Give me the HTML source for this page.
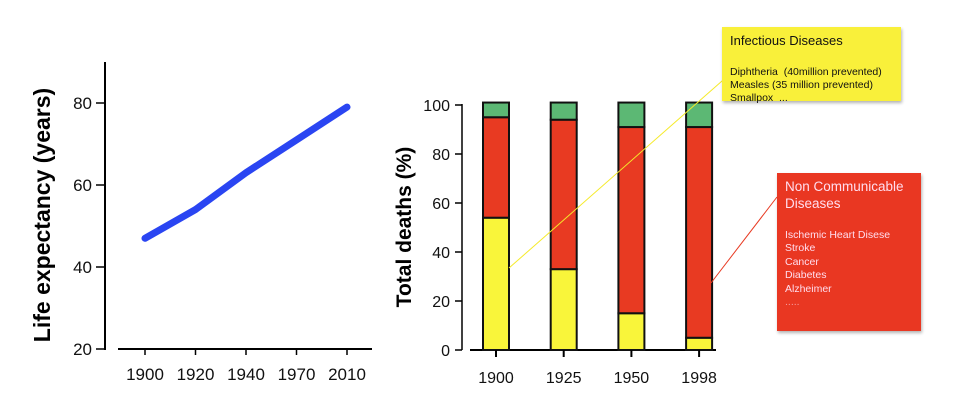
<!DOCTYPE html>
<html><head><meta charset="utf-8"><style>
body{margin:0;background:#fff;width:957px;height:402px;overflow:hidden;font-family:"Liberation Sans",sans-serif}
.box{position:absolute;box-shadow:1px 2px 3px rgba(0,0,0,.3)}
</style></head><body>
<svg id="c" width="957" height="402" style="position:absolute;left:0;top:0"></svg>
<div class="box" style="left:722px;top:27px;width:179px;height:74px;background:#f9f03a;color:#111">
 <div style="position:absolute;left:8px;top:6px;font-size:13px">Infectious Diseases</div>
 <div style="position:absolute;left:8px;top:39px;font-size:10.5px;line-height:13px;white-space:nowrap">Diphtheria &nbsp;(40million prevented)<br>Measles (35 million prevented)<br>Smallpox &nbsp;...</div>
</div>
<div class="box" style="left:777px;top:173px;width:144px;height:158px;background:#e93722;color:#fde">
 <div style="position:absolute;left:8px;top:5px;font-size:13.5px;line-height:17px">Non Communicable<br>Diseases</div>
 <div style="position:absolute;left:8px;top:56px;font-size:10.5px;line-height:13.4px">Ischemic Heart Disese<br>Stroke<br>Cancer<br>Diabetes<br>Alzheimer<br><span style="opacity:.6">.....</span></div>
</div>
<script>
const lifeYears=["1900","1920","1940","1970","2010"];
const lifeValues=[47,54,63,71,79];
const lifeTicks=[20,40,60,80];
const barYears=["1900","1925","1950","1998"];
const infectious=[54,33,15,5];
const noncomm=[41,61,76,86];
const other=[6,7,10,10];
const pctTicks=[0,20,40,60,80,100];
const NS="http://www.w3.org/2000/svg";
const svg=document.getElementById('c');
function mk(t,a,p){const e=document.createElementNS(NS,t);for(const k in a)e.setAttribute(k,a[k]);(p||svg).appendChild(e);return e;}
// left chart
const ly=v=>349-(v-20)*4.1, lx=i=>145+i*50.5;
let e=mk('line',{x1:105,y1:62,x2:105,y2:350,stroke:'#000','stroke-width':2});


e=mk('line',{x1:118,y1:349,x2:372,y2:349,stroke:'#000','stroke-width':2});


lifeTicks.forEach(v=>{
 mk('line',{x1:96,y1:ly(v),x2:105,y2:ly(v),stroke:'#000','stroke-width':1.5});
 const t=mk('text',{x:92,y:ly(v)+6,'text-anchor':'end','font-size':17,fill:'#111'});t.textContent=v;
 
 
});
lifeYears.forEach((y,i)=>{
 mk('line',{x1:lx(i),y1:349,x2:lx(i),y2:355,stroke:'#000','stroke-width':1.5});
 const t=mk('text',{x:lx(i),y:380,'text-anchor':'middle','font-size':17,fill:'#111'});t.textContent=y;
 
 
});
e=mk('polyline',{points:lifeValues.map((v,i)=>lx(i)+','+ly(v)).join(' '),fill:'none',stroke:'#2a45f2','stroke-width':7,'stroke-linecap':'round','stroke-linejoin':'round'});


e=mk('text',{transform:'translate(50,215) rotate(-90)','text-anchor':'middle','font-size':23,'font-weight':'bold',fill:'#000'});e.textContent='Life expectancy (years)';


// right chart
const py=v=>350-v*2.45, px=i=>496+i*67.7;
e=mk('line',{x1:462,y1:104,x2:462,y2:350,stroke:'#000','stroke-width':1.5});


e=mk('line',{x1:470,y1:350,x2:716,y2:350,stroke:'#000','stroke-width':2});


pctTicks.forEach(v=>{
 mk('line',{x1:455,y1:py(v),x2:462,y2:py(v),stroke:'#000','stroke-width':1.5});
 const t=mk('text',{x:450,y:py(v)+6,'text-anchor':'end','font-size':16,fill:'#111'});t.textContent=v;
 
 
});
barYears.forEach((y,i)=>{
 const x=px(i)-13;let b=0;
 [[infectious,'#f9f53a','bar-infectious'],[noncomm,'#e83a22','bar-noncommunicable'],[other,'#5cb874','bar-other']].forEach(([arr,c,n])=>{
  const r=mk('rect',{x:x,y:py(b+arr[i]),width:26,height:arr[i]*2.45,fill:c,stroke:'#111','stroke-width':2});
  
  
  b+=arr[i];
 });
 mk('line',{x1:px(i),y1:350,x2:px(i),y2:357,stroke:'#000','stroke-width':2});
 const t=mk('text',{x:px(i),y:383,'text-anchor':'middle','font-size':16,fill:'#111'});t.textContent=y;
 
 
});
e=mk('text',{transform:'translate(411,227) rotate(-90)','text-anchor':'middle','font-size':21,'font-weight':'bold',fill:'#000','xml:space':'preserve'});e.textContent='Total deaths  (%)';


e=mk('line',{x1:509,y1:268,x2:730,y2:74,stroke:'#f5ea2a','stroke-width':1});


e=mk('line',{x1:711,y1:283,x2:777,y2:197,stroke:'#e83a22','stroke-width':1});


</script>
</body></html>
